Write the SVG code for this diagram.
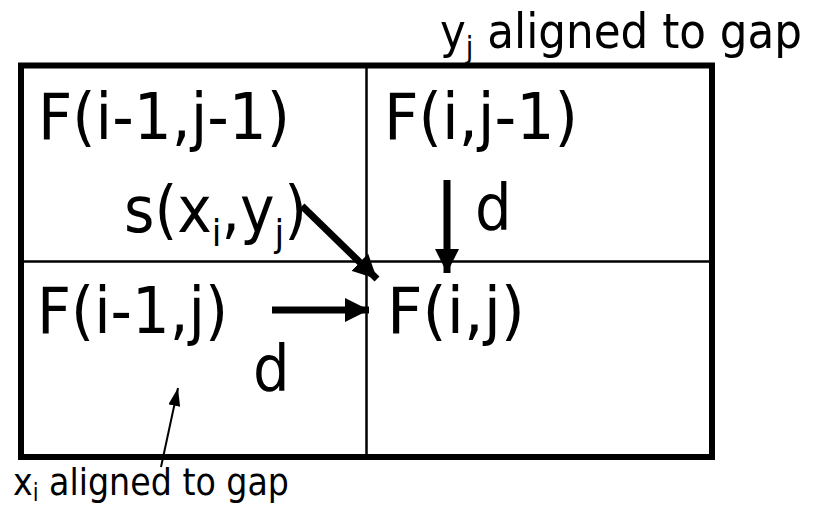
<svg xmlns="http://www.w3.org/2000/svg" width="815" height="508" viewBox="0 0 815 508">
<style>
.t { font-family: "DejaVu Sans Condensed", "DejaVu Sans", sans-serif; fill: #000; }
.big { font-size: 64px; }
.sub { font-size: 38px; }
.cap1 { font-size: 48px; }
.cap2 { font-size: 38px; }
.grid { fill: none; stroke: #000; }
.thick { stroke: #000; stroke-width: 7; fill: none; }
.thin { stroke: #000; stroke-width: 2; fill: none; }
</style>
<defs>
<marker id="headBig" markerUnits="userSpaceOnUse" viewBox="0 0 24 24" markerWidth="24" markerHeight="24" refX="24" refY="12" orient="auto">
<path d="M0,0 L24,12 L0,24 z" fill="#000"/>
</marker>
<marker id="headSmall" markerUnits="userSpaceOnUse" viewBox="0 0 18 12" markerWidth="18" markerHeight="12" refX="18" refY="6" orient="auto">
<path d="M0,0 L18,6 L0,12 z" fill="#000"/>
</marker>
</defs>
<rect width="815" height="508" fill="#fff"/>
<g id="table">
<rect class="grid" x="21" y="65.5" width="691" height="391.5" stroke-width="6"/>
<line class="grid" x1="366.5" y1="65" x2="366.5" y2="457" stroke-width="2.5"/>
<line class="grid" x1="21" y1="261.5" x2="712" y2="261.5" stroke-width="2.5"/>
</g>
<g id="cell-i1-j1">
<text class="t big" x="38" y="139" textLength="252" lengthAdjust="spacingAndGlyphs">F(i-1,j-1)</text>
</g>
<g id="cell-i-j1">
<text class="t big" x="384" y="139" textLength="194" lengthAdjust="spacingAndGlyphs">F(i,j-1)</text>
</g>
<g id="cell-i1-j">
<text class="t big" x="37" y="333" textLength="191" lengthAdjust="spacingAndGlyphs">F(i-1,j)</text>
</g>
<g id="cell-i-j">
<text class="t big" x="387" y="333" textLength="138" lengthAdjust="spacingAndGlyphs">F(i,j)</text>
</g>
<g id="connectors">
<line class="thick" x1="302" y1="206" x2="377" y2="279" marker-end="url(#headBig)"/>
<line class="thick" x1="447" y1="180" x2="447" y2="273" marker-end="url(#headBig)"/>
<line class="thick" x1="272" y1="310" x2="369" y2="310" marker-end="url(#headBig)"/>
<line class="thin" x1="161" y1="467" x2="178" y2="388" marker-end="url(#headSmall)"/>
</g>
<g id="edge-labels">
<text class="t big" x="124" y="232" textLength="183" lengthAdjust="spacingAndGlyphs">s(x<tspan class="sub" dy="14">i</tspan><tspan dy="-14">,y</tspan><tspan class="sub" dy="14">j</tspan><tspan dy="-14">)</tspan></text>
<text class="t big" x="475" y="230">d</text>
<text class="t big" x="253" y="391">d</text>
</g>
<g id="gap-labels">
<text class="t cap1" x="440" y="48" textLength="362" lengthAdjust="spacingAndGlyphs">y<tspan font-size="30" dy="10">j</tspan><tspan dy="-10"> aligned to gap</tspan></text>
<text class="t cap2" x="13" y="495" textLength="276" lengthAdjust="spacingAndGlyphs">x<tspan font-size="24" dy="6">i</tspan><tspan dy="-6"> aligned to gap</tspan></text>
</g>
</svg>
